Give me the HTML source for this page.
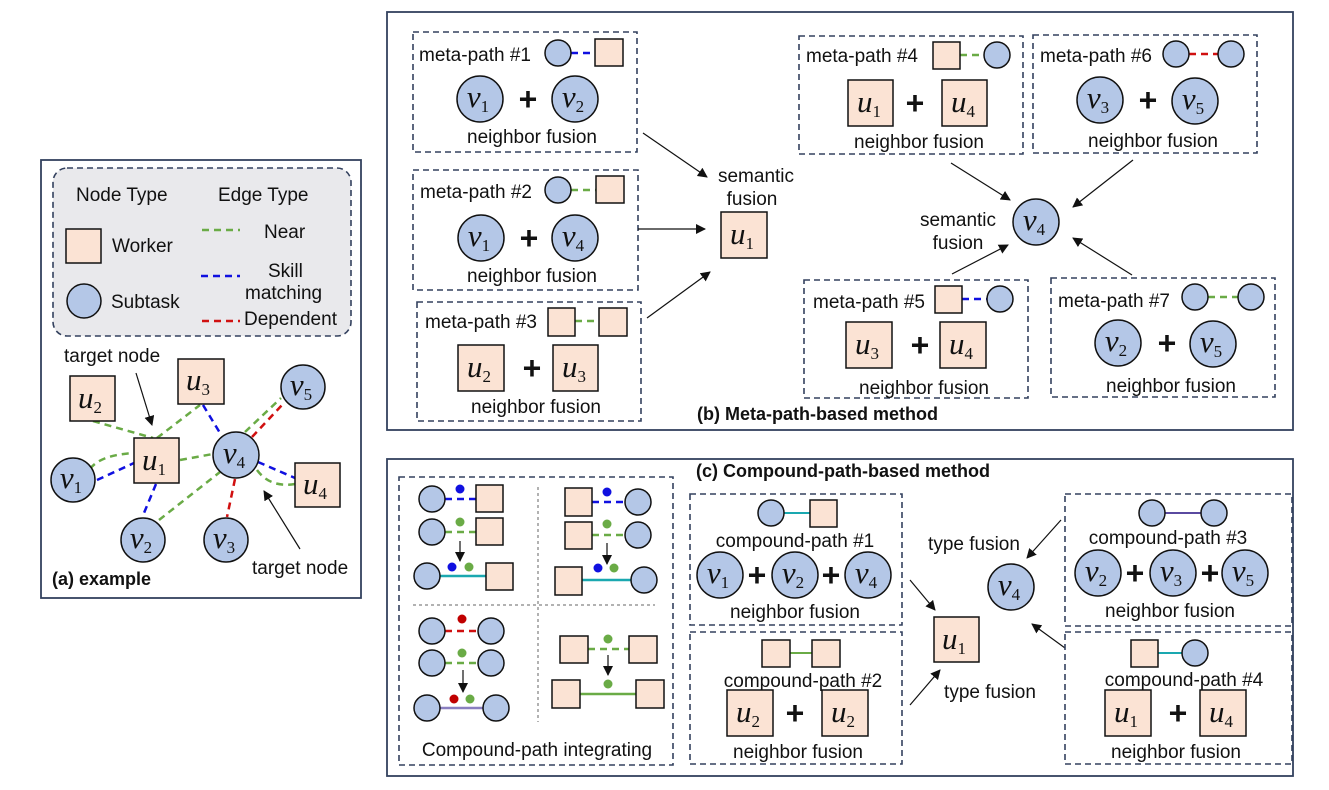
<!DOCTYPE html>
<html><head><meta charset="utf-8"><style>
html,body{margin:0;padding:0;background:#fff}
svg{display:block}
.c{fill:#b4c7e7;stroke:#111;stroke-width:1.5}
.s{fill:#fbe3d4;stroke:#111;stroke-width:1.5}
.t{font-family:"Liberation Sans",sans-serif;font-size:19px;fill:#111}
.tc{font-family:"Liberation Sans",sans-serif;font-size:19px;fill:#111;text-anchor:middle}
.b{font-family:"Liberation Sans",sans-serif;font-size:18px;font-weight:bold;fill:#111}
.n{font-family:"Liberation Serif",serif;font-style:italic;font-size:31px;fill:#111;text-anchor:middle}
.n tspan{font-style:normal;font-size:17px}
.p{font-family:"Liberation Sans",sans-serif;font-weight:bold;font-size:32px;fill:#111;text-anchor:middle}
.box{fill:none;stroke:#33415e;stroke-width:1.6;stroke-dasharray:6 4}
.pan{fill:none;stroke:#33415e;stroke-width:1.8}
.g{stroke:#6aab46;stroke-width:2.5;stroke-dasharray:7 5;fill:none}
.bl{stroke:#1010e0;stroke-width:2.5;stroke-dasharray:7 5;fill:none}
.r{stroke:#d01010;stroke-width:2.5;stroke-dasharray:7 5;fill:none}
.ar{stroke:#111;stroke-width:1.2;fill:none;marker-end:url(#ah)}
</style></head><body>
<svg width="1329" height="790" viewBox="0 0 1329 790" xmlns="http://www.w3.org/2000/svg">
<defs><marker id="ah" markerWidth="10" markerHeight="10" refX="9" refY="5" orient="auto" markerUnits="userSpaceOnUse"><path d="M0,0 L10,5 L0,10 z" fill="#111"/></marker></defs>

<!-- Panel a -->
<rect class="pan" x="41" y="160" width="320" height="438"/>
<rect x="53" y="168" width="298" height="168" rx="14" fill="#e9e9ec" stroke="#33415e" stroke-width="1.6" stroke-dasharray="6 4"/>
<text class="t" x="76" y="201">Node Type</text>
<text class="t" x="218" y="201">Edge Type</text>
<rect class="s" x="66" y="229" width="35" height="34"/>
<text class="t" x="112" y="252">Worker</text>
<circle class="c" cx="84" cy="301" r="17"/>
<text class="t" x="111" y="308">Subtask</text>
<line class="g" x1="202" y1="230" x2="240" y2="230"/>
<text class="t" x="264" y="238">Near</text>
<line class="bl" x1="201" y1="276" x2="240" y2="276"/>
<text class="t" x="268" y="277">Skill</text>
<text class="t" x="245" y="299">matching</text>
<line class="r" x1="202" y1="321" x2="240" y2="321"/>
<text class="t" x="244" y="325">Dependent</text>

<!-- graph edges -->
<path class="g" d="M93,421 L153,438"/>
<path class="g" d="M157,438 L200,405"/>
<path class="g" d="M90,469 Q100,455 134,453"/>
<path class="bl" d="M97,480 L134,463"/>
<path class="bl" d="M156,484 L144,513"/>
<path class="g" d="M180,460 L213,454"/>
<path class="g" d="M159,520 L220,472"/>
<path class="bl" d="M203,405 L220,433"/>
<path class="g" d="M245,432 L281,398"/>
<path class="r" d="M252,437 L283,404"/>
<path class="bl" d="M258,462 L295,478"/>
<path class="g" d="M257,470 Q270,488 295,484"/>
<path class="r" d="M235,479 L227,517"/>
<!-- graph nodes -->
<rect class="s" x="70" y="376" width="45" height="45"/><text class="n" x="90" y="408">u<tspan dy="5">2</tspan></text>
<rect class="s" x="178" y="359" width="46" height="45"/><text class="n" x="198" y="390">u<tspan dy="5">3</tspan></text>
<rect class="s" x="134" y="438" width="45" height="45"/><text class="n" x="154" y="470">u<tspan dy="5">1</tspan></text>
<rect class="s" x="295" y="463" width="45" height="44"/><text class="n" x="315" y="494">u<tspan dy="5">4</tspan></text>
<circle class="c" cx="73" cy="480" r="22"/><text class="n" x="71" y="488">v<tspan dy="5">1</tspan></text>
<circle class="c" cx="143" cy="540" r="22"/><text class="n" x="141" y="548">v<tspan dy="5">2</tspan></text>
<circle class="c" cx="226" cy="540" r="22"/><text class="n" x="224" y="548">v<tspan dy="5">3</tspan></text>
<circle class="c" cx="236" cy="455" r="23"/><text class="n" x="234" y="463">v<tspan dy="5">4</tspan></text>
<circle class="c" cx="303" cy="387" r="22"/><text class="n" x="301" y="395">v<tspan dy="5">5</tspan></text>
<text class="t" x="64" y="362">target node</text>
<path class="ar" d="M136,373 L152,425"/>
<text class="t" x="252" y="574">target node</text>
<path class="ar" d="M300,549 L264,491"/>
<text class="b" x="52" y="585">(a) example</text>

<!-- Panel b -->
<rect class="pan" x="387" y="12" width="906" height="418"/>
<!-- mp1 -->
<rect class="box" x="413" y="32" width="224" height="120"/>
<text class="t" x="419" y="61">meta-path #1</text>
<line class="bl" x1="571" y1="53" x2="595" y2="53"/>
<circle class="c" cx="558" cy="53" r="13"/><rect class="s" x="595" y="39" width="28" height="27"/>
<circle class="c" cx="480" cy="99" r="23"/><text class="n" x="478" y="107">v<tspan dy="5">1</tspan></text>
<text class="p" x="528" y="110">+</text>
<circle class="c" cx="575" cy="99" r="23"/><text class="n" x="573" y="107">v<tspan dy="5">2</tspan></text>
<text class="tc" x="532" y="143">neighbor fusion</text>
<!-- mp2 -->
<rect class="box" x="413" y="170" width="225" height="120"/>
<text class="t" x="420" y="198">meta-path #2</text>
<line class="g" x1="571" y1="190" x2="596" y2="190"/>
<circle class="c" cx="558" cy="190" r="13"/><rect class="s" x="596" y="176" width="28" height="27"/>
<circle class="c" cx="481" cy="238" r="23"/><text class="n" x="479" y="246">v<tspan dy="5">1</tspan></text>
<text class="p" x="529" y="249">+</text>
<circle class="c" cx="575" cy="238" r="23"/><text class="n" x="573" y="246">v<tspan dy="5">4</tspan></text>
<text class="tc" x="532" y="282">neighbor fusion</text>
<!-- mp3 -->
<rect class="box" x="417" y="302" width="224" height="119"/>
<text class="t" x="425" y="328">meta-path #3</text>
<line class="g" x1="575" y1="321" x2="599" y2="321"/>
<rect class="s" x="548" y="308" width="27" height="28"/><rect class="s" x="599" y="308" width="28" height="28"/>
<rect class="s" x="458" y="345" width="46" height="46"/><text class="n" x="479" y="377">u<tspan dy="5">2</tspan></text>
<text class="p" x="532" y="379">+</text>
<rect class="s" x="553" y="345" width="45" height="46"/><text class="n" x="574" y="377">u<tspan dy="5">3</tspan></text>
<text class="tc" x="536" y="413">neighbor fusion</text>
<!-- u1 -->
<path class="ar" d="M643,133 L707,177"/>
<path class="ar" d="M638,229 L705,229"/>
<path class="ar" d="M647,318 L710,272"/>
<text class="tc" x="756" y="182">semantic</text>
<text class="tc" x="752" y="205">fusion</text>
<rect class="s" x="721" y="212" width="46" height="46"/><text class="n" x="742" y="244">u<tspan dy="5">1</tspan></text>
<!-- mp4 -->
<rect class="box" x="799" y="36" width="224" height="118"/>
<text class="t" x="806" y="62">meta-path #4</text>
<line class="g" x1="960" y1="55" x2="984" y2="55"/>
<rect class="s" x="933" y="42" width="27" height="27"/><circle class="c" cx="997" cy="55" r="13"/>
<rect class="s" x="848" y="80" width="45" height="46"/><text class="n" x="869" y="112">u<tspan dy="5">1</tspan></text>
<text class="p" x="915" y="114">+</text>
<rect class="s" x="942" y="80" width="45" height="46"/><text class="n" x="963" y="112">u<tspan dy="5">4</tspan></text>
<text class="tc" x="919" y="148">neighbor fusion</text>
<!-- mp6 -->
<rect class="box" x="1033" y="35" width="224" height="118"/>
<text class="t" x="1040" y="62">meta-path #6</text>
<line class="r" x1="1189" y1="54" x2="1218" y2="54"/>
<circle class="c" cx="1176" cy="54" r="13"/><circle class="c" cx="1231" cy="54" r="13"/>
<circle class="c" cx="1100" cy="100" r="23"/><text class="n" x="1098" y="108">v<tspan dy="5">3</tspan></text>
<text class="p" x="1148" y="111">+</text>
<circle class="c" cx="1195" cy="101" r="23"/><text class="n" x="1193" y="109">v<tspan dy="5">5</tspan></text>
<text class="tc" x="1153" y="147">neighbor fusion</text>
<!-- v4 -->
<circle class="c" cx="1036" cy="222" r="23"/><text class="n" x="1034" y="230">v<tspan dy="5">4</tspan></text>
<text class="tc" x="958" y="226">semantic</text>
<text class="tc" x="958" y="249">fusion</text>
<path class="ar" d="M951,163 L1010,200"/>
<path class="ar" d="M1133,160 L1073,207"/>
<path class="ar" d="M952,274 L1008,245"/>
<path class="ar" d="M1132,275 L1073,238"/>
<!-- mp5 -->
<rect class="box" x="804" y="280" width="224" height="118"/>
<text class="t" x="813" y="308">meta-path #5</text>
<line class="bl" x1="962" y1="299" x2="987" y2="299"/>
<rect class="s" x="935" y="286" width="27" height="27"/><circle class="c" cx="1000" cy="299" r="13"/>
<rect class="s" x="846" y="322" width="46" height="46"/><text class="n" x="867" y="354">u<tspan dy="5">3</tspan></text>
<text class="p" x="920" y="356">+</text>
<rect class="s" x="940" y="322" width="46" height="46"/><text class="n" x="961" y="354">u<tspan dy="5">4</tspan></text>
<text class="tc" x="924" y="394">neighbor fusion</text>
<!-- mp7 -->
<rect class="box" x="1051" y="278" width="224" height="119"/>
<text class="t" x="1058" y="307">meta-path #7</text>
<line class="g" x1="1208" y1="297" x2="1238" y2="297"/>
<circle class="c" cx="1195" cy="297" r="13"/><circle class="c" cx="1251" cy="297" r="13"/>
<circle class="c" cx="1118" cy="343" r="23"/><text class="n" x="1116" y="351">v<tspan dy="5">2</tspan></text>
<text class="p" x="1167" y="354">+</text>
<circle class="c" cx="1213" cy="344" r="23"/><text class="n" x="1211" y="352">v<tspan dy="5">5</tspan></text>
<text class="tc" x="1171" y="392">neighbor fusion</text>
<text class="b" x="697" y="420">(b) Meta-path-based method</text>

<!-- Panel c -->
<rect class="pan" x="387" y="459" width="906" height="317"/>
<text class="b" x="696" y="477">(c) Compound-path-based method</text>
<rect class="box" x="399" y="477" width="274" height="288"/>
<line x1="538" y1="487" x2="538" y2="722" stroke="#666" stroke-width="1" stroke-dasharray="3 3"/>
<line x1="413" y1="605" x2="655" y2="605" stroke="#666" stroke-width="1" stroke-dasharray="3 3"/>
<!-- TL -->
<line class="bl" x1="445" y1="499" x2="476" y2="499" stroke-width="2" stroke-dasharray="6 5"/>
<circle class="c" cx="432" cy="499" r="13"/><rect class="s" x="476" y="485" width="27" height="27"/><circle cx="460" cy="489" r="4.5" fill="#1010e0"/>
<line class="g" x1="445" y1="532" x2="476" y2="532" stroke-width="2" stroke-dasharray="6 5"/>
<circle class="c" cx="432" cy="532" r="13"/><rect class="s" x="476" y="518" width="27" height="27"/><circle cx="460" cy="522" r="4.5" fill="#6aab46"/>
<path class="ar" d="M460,541 L460,561"/>
<line x1="440" y1="576" x2="486" y2="576" stroke="#1aa8b0" stroke-width="2.5"/>
<circle class="c" cx="427" cy="576" r="13"/><rect class="s" x="486" y="563" width="27" height="27"/>
<circle cx="452" cy="567" r="4.5" fill="#1010e0"/><circle cx="469" cy="567" r="4.5" fill="#6aab46"/>
<!-- TR -->
<line class="bl" x1="592" y1="502" x2="625" y2="502" stroke-width="2" stroke-dasharray="6 5"/>
<rect class="s" x="565" y="488" width="27" height="28"/><circle class="c" cx="638" cy="502" r="13"/><circle cx="607" cy="492" r="4.5" fill="#1010e0"/>
<line class="g" x1="592" y1="535" x2="625" y2="535" stroke-width="2" stroke-dasharray="6 5"/>
<rect class="s" x="565" y="522" width="27" height="27"/><circle class="c" cx="638" cy="535" r="13"/><circle cx="607" cy="524" r="4.5" fill="#6aab46"/>
<path class="ar" d="M607,543 L607,564"/>
<line x1="582" y1="580" x2="631" y2="580" stroke="#1aa8b0" stroke-width="2.5"/>
<rect class="s" x="555" y="567" width="27" height="28"/><circle class="c" cx="644" cy="580" r="13"/>
<circle cx="598" cy="568" r="4.5" fill="#1010e0"/><circle cx="614" cy="568" r="4.5" fill="#6aab46"/>
<!-- BL -->
<line class="r" x1="445" y1="631" x2="478" y2="631" stroke-width="2" stroke-dasharray="6 5"/>
<circle class="c" cx="432" cy="631" r="13"/><circle class="c" cx="491" cy="631" r="13"/><circle cx="462" cy="619" r="4.5" fill="#c00000"/>
<line class="g" x1="445" y1="663" x2="478" y2="663" stroke-width="2" stroke-dasharray="6 5"/>
<circle class="c" cx="432" cy="663" r="13"/><circle class="c" cx="491" cy="663" r="13"/><circle cx="462" cy="653" r="4.5" fill="#6aab46"/>
<path class="ar" d="M463,670 L463,692"/>
<line x1="440" y1="708" x2="483" y2="708" stroke="#8a7fc0" stroke-width="2.5"/>
<circle class="c" cx="427" cy="708" r="13"/><circle class="c" cx="496" cy="708" r="13"/>
<circle cx="454" cy="699" r="4.5" fill="#c00000"/><circle cx="470" cy="699" r="4.5" fill="#6aab46"/>
<!-- BR -->
<line class="g" x1="588" y1="649" x2="629" y2="649" stroke-width="2" stroke-dasharray="6 5"/>
<rect class="s" x="560" y="636" width="28" height="27"/><rect class="s" x="629" y="636" width="28" height="27"/><circle cx="608" cy="639" r="4.5" fill="#6aab46"/>
<path class="ar" d="M608,655 L608,675"/>
<line x1="580" y1="694" x2="636" y2="694" stroke="#6aab46" stroke-width="2.5"/>
<rect class="s" x="552" y="680" width="28" height="28"/><rect class="s" x="636" y="680" width="28" height="28"/><circle cx="608" cy="684" r="4.5" fill="#6aab46"/>
<text class="tc" x="537" y="756">Compound-path integrating</text>

<!-- cp1 -->
<rect class="box" x="690" y="494" width="212" height="131"/>
<line x1="784" y1="513" x2="810" y2="513" stroke="#1aa8b0" stroke-width="2"/>
<circle class="c" cx="771" cy="513" r="13"/><rect class="s" x="810" y="500" width="27" height="27"/>
<text class="tc" x="795" y="547">compound-path #1</text>
<circle class="c" cx="720" cy="575" r="23"/><text class="n" x="718" y="583">v<tspan dy="5">1</tspan></text>
<text class="p" x="757" y="586">+</text>
<circle class="c" cx="795" cy="575" r="23"/><text class="n" x="793" y="583">v<tspan dy="5">2</tspan></text>
<text class="p" x="831" y="586">+</text>
<circle class="c" cx="868" cy="575" r="23"/><text class="n" x="866" y="583">v<tspan dy="5">4</tspan></text>
<text class="tc" x="795" y="618">neighbor fusion</text>
<!-- cp2 -->
<rect class="box" x="690" y="632" width="212" height="132"/>
<line x1="790" y1="653" x2="812" y2="653" stroke="#6aab46" stroke-width="2"/>
<rect class="s" x="762" y="640" width="28" height="27"/><rect class="s" x="812" y="640" width="28" height="27"/>
<text class="tc" x="803" y="687">compound-path #2</text>
<rect class="s" x="727" y="690" width="46" height="46"/><text class="n" x="748" y="722">u<tspan dy="5">2</tspan></text>
<text class="p" x="795" y="724">+</text>
<rect class="s" x="822" y="690" width="46" height="46"/><text class="n" x="843" y="722">u<tspan dy="5">2</tspan></text>
<text class="tc" x="798" y="758">neighbor fusion</text>
<!-- center -->
<rect class="s" x="934" y="617" width="45" height="45"/><text class="n" x="954" y="649">u<tspan dy="5">1</tspan></text>
<path class="ar" d="M910,580 L935,610"/>
<path class="ar" d="M910,705 L940,670"/>
<text class="tc" x="990" y="698">type fusion</text>
<circle class="c" cx="1011" cy="587" r="23"/><text class="n" x="1009" y="595">v<tspan dy="5">4</tspan></text>
<text class="tc" x="974" y="550">type fusion</text>
<path class="ar" d="M1061,520 L1027,558"/>
<path class="ar" d="M1065,648 L1032,624"/>
<!-- cp3 -->
<rect class="box" x="1065" y="494" width="227" height="132"/>
<line x1="1165" y1="513" x2="1201" y2="513" stroke="#5a4aa0" stroke-width="2"/>
<circle class="c" cx="1152" cy="513" r="13"/><circle class="c" cx="1214" cy="513" r="13"/>
<text class="tc" x="1168" y="544">compound-path #3</text>
<circle class="c" cx="1098" cy="573" r="23"/><text class="n" x="1096" y="581">v<tspan dy="5">2</tspan></text>
<text class="p" x="1135" y="584">+</text>
<circle class="c" cx="1173" cy="573" r="23"/><text class="n" x="1171" y="581">v<tspan dy="5">3</tspan></text>
<text class="p" x="1210" y="584">+</text>
<circle class="c" cx="1245" cy="573" r="23"/><text class="n" x="1243" y="581">v<tspan dy="5">5</tspan></text>
<text class="tc" x="1170" y="617">neighbor fusion</text>
<!-- cp4 -->
<rect class="box" x="1065" y="632" width="227" height="132"/>
<line x1="1158" y1="653" x2="1182" y2="653" stroke="#1aa8b0" stroke-width="2"/>
<rect class="s" x="1131" y="640" width="27" height="27"/><circle class="c" cx="1195" cy="653" r="13"/>
<text class="tc" x="1184" y="686">compound-path #4</text>
<rect class="s" x="1105" y="690" width="46" height="46"/><text class="n" x="1126" y="722">u<tspan dy="5">1</tspan></text>
<text class="p" x="1178" y="724">+</text>
<rect class="s" x="1200" y="690" width="46" height="46"/><text class="n" x="1221" y="722">u<tspan dy="5">4</tspan></text>
<text class="tc" x="1176" y="758">neighbor fusion</text>
</svg>
</body></html>
